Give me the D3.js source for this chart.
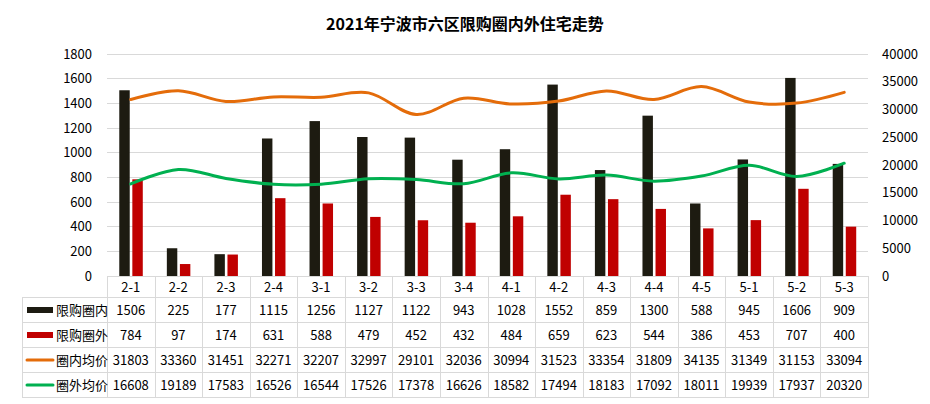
<!DOCTYPE html>
<html><head><meta charset="utf-8">
<script src="https://cdn.jsdelivr.net/npm/d3@7"></script>
<style>
html,body{margin:0;padding:0;background:#fff;}
text{font-family:"Noto Sans CJK SC","Microsoft YaHei",sans-serif;}
</style></head>
<body><svg id="c" width="930" height="404"></svg>
<script>
const title = "2021年宁波市六区限购圈内外住宅走势";
const categories = ["2-1","2-2","2-3","2-4","3-1","3-2","3-3","3-4","4-1","4-2","4-3","4-4","4-5","5-1","5-2","5-3"];
const innerCount = [1506,225,177,1115,1256,1127,1122,943,1028,1552,859,1300,588,945,1606,909];
const outerCount = [784,97,174,631,588,479,452,432,484,659,623,544,386,453,707,400];
const innerPrice = [31803,33360,31451,32271,32207,32997,29101,32036,30994,31523,33354,31809,34135,31349,31153,33094];
const outerPrice = [16608,19189,17583,16526,16544,17526,17378,16626,18582,17494,18183,17092,18011,19939,17937,20320];
const leftTicks = [0,200,400,600,800,1000,1200,1400,1600,1800];
const rightTicks = [0,5000,10000,15000,20000,25000,30000,35000,40000];
const seriesNames = ["限购圈内","限购圈外","圈内均价","圈外均价"];
const colors = ["#1D1B11","#C00000","#E46C0A","#00B050"];

const svg = d3.select("#c");
const L = 107, R = 868, T = 54, B = 276;
const tableLeft = 22, rowH = 25, tableTop = 297;

const x = d3.scaleBand().domain(categories).range([L, R]).padding(0);
const yL = d3.scaleLinear().domain([0,1800]).range([B, T]);
const yR = d3.scaleLinear().domain([0,40000]).range([B, T]);
const xs = d3.scaleBand().domain(["in","out"]).range([-11.5, 12]).paddingInner(0.2);

// title
svg.append("text").attr("x", 465).attr("y", 30).attr("text-anchor","middle")
  .attr("font-size", 16).attr("font-weight","bold").attr("fill","#000").text(title);

// gridlines
svg.append("g").selectAll("line").data(leftTicks.slice(1)).join("line")
  .attr("x1", L).attr("x2", R).attr("y1", d=>yL(d)).attr("y2", d=>yL(d))
  .attr("stroke","#D9D9D9").attr("stroke-width",1).attr("shape-rendering","crispEdges");

// left axis
const gl = svg.append("g").attr("transform",`translate(${L},0)`)
  .call(d3.axisLeft(yL).tickValues(leftTicks).tickFormat(d3.format("d")).tickSize(0).tickPadding(15));
gl.select(".domain").remove();
gl.selectAll("text").attr("font-size",13).attr("fill","#000").style("font-family","\"Noto Sans CJK SC\",sans-serif");

// right axis
const gr = svg.append("g").attr("transform",`translate(${R},0)`)
  .call(d3.axisRight(yR).tickValues(rightTicks).tickFormat(d3.format("d")).tickSize(0).tickPadding(14));
gr.select(".domain").remove();
gr.selectAll("text").attr("font-size",13).attr("fill","#000").style("font-family","\"Noto Sans CJK SC\",sans-serif");

// bars
const barG = svg.append("g");
categories.forEach((c,i)=>{
  barG.append("rect").attr("x", x(c)+x.bandwidth()/2+xs("in")).attr("width", xs.bandwidth())
    .attr("y", yL(innerCount[i])).attr("height", B - yL(innerCount[i])).attr("fill", colors[0]);
  barG.append("rect").attr("x", x(c)+x.bandwidth()/2+xs("out")).attr("width", xs.bandwidth())
    .attr("y", yL(outerCount[i])).attr("height", B - yL(outerCount[i])).attr("fill", colors[1]);
});

// lines
const line = d3.line().x((d,i)=>x(categories[i])+x.bandwidth()/2).y(d=>yR(d)).curve(d3.curveCatmullRom.alpha(0));
svg.append("path").attr("d", line(innerPrice)).attr("fill","none").attr("stroke",colors[2]).attr("stroke-width",3).attr("stroke-linecap","round");
svg.append("path").attr("d", line(outerPrice)).attr("fill","none").attr("stroke",colors[3]).attr("stroke-width",3).attr("stroke-linecap","round");

// category axis line
svg.append("line").attr("x1",L).attr("x2",R).attr("y1",B+0.5).attr("y2",B+0.5).attr("stroke","#D9D9D9");

// table
const tg = svg.append("g");
const tableBottom = tableTop + rowH*4;
const bounds = categories.map(c=>x(c)).concat([R]);
tg.selectAll("line.v").data(bounds).join("line").attr("class","v")
  .attr("x1",d=>Math.round(d)+0.5).attr("x2",d=>Math.round(d)+0.5).attr("y1",B).attr("y2",tableBottom)
  .attr("stroke","#D9D9D9");
tg.append("line").attr("x1",tableLeft+0.5).attr("x2",tableLeft+0.5).attr("y1",tableTop).attr("y2",tableBottom).attr("stroke","#D9D9D9");
for(let r=0;r<=4;r++){
  tg.append("line").attr("x1",tableLeft).attr("x2",R+1).attr("y1",tableTop+r*rowH+0.5).attr("y2",tableTop+r*rowH+0.5).attr("stroke","#D9D9D9");
}
tg.selectAll("text.cat").data(categories).join("text").attr("class","cat")
  .attr("x",d=>x(d)+x.bandwidth()/2).attr("y",(B+tableTop)/2+0.5).attr("dy","0.35em")
  .attr("text-anchor","middle").attr("font-size",13).attr("fill","#000").text(d=>d);

const rows = [innerCount, outerCount, innerPrice, outerPrice];
rows.forEach((vals,r)=>{
  const cy = tableTop + r*rowH + rowH/2 + 0.5;
  if(r<2){
    tg.append("rect").attr("x",27).attr("y",cy-3).attr("width",26).attr("height",6).attr("fill",colors[r]);
  } else {
    tg.append("line").attr("x1",27).attr("x2",53).attr("y1",cy).attr("y2",cy).attr("stroke",colors[r]).attr("stroke-width",3).attr("stroke-linecap","round");
  }
  tg.append("text").attr("x",56).attr("y",cy).attr("dy","0.35em").attr("font-size",13).attr("fill","#000").text(seriesNames[r]);
  tg.selectAll(null).data(vals).join("text")
    .attr("x",(d,i)=>x(categories[i])+x.bandwidth()/2).attr("y",cy).attr("dy","0.35em")
    .attr("text-anchor","middle").attr("font-size",13).attr("fill","#000").text(d=>d);
});
</script></body></html>
